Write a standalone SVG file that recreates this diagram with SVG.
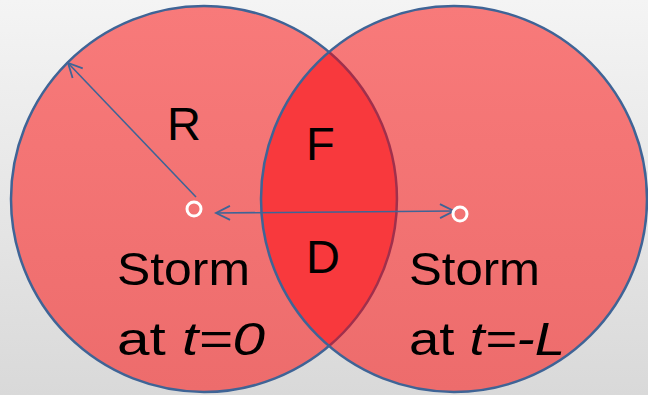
<svg xmlns="http://www.w3.org/2000/svg" width="648" height="395" viewBox="0 0 648 395">
  <style>
    .lbl { font-family: "Liberation Sans", Arial, sans-serif; font-size: 47px; fill: #000; }
    .it { font-style: italic; }
    .edge { stroke: #3F6496; stroke-width: 2.5; }
    .conn { stroke: #3F6496; stroke-width: 1.6; fill: none; }
    .ctr { fill: none; stroke: #FFFFFF; stroke-width: 3; }
  </style>
  <defs>
    <linearGradient id="bg" x1="0" y1="0" x2="0" y2="1">
      <stop offset="0" stop-color="#F4F4F4"/>
      <stop offset="1" stop-color="#D9D9D9"/>
    </linearGradient>
    <linearGradient id="fillR" x1="0" y1="0" x2="0" y2="1">
      <stop offset="0" stop-color="#F87A7A"/>
      <stop offset="1" stop-color="#ED6C6C"/>
    </linearGradient>
    <marker id="open" viewBox="0 0 18 18" refX="16" refY="9" markerWidth="18" markerHeight="18" markerUnits="userSpaceOnUse" orient="auto-start-reverse">
      <path d="M2 2 L16 9 L2 16" fill="none" stroke="#3F6496" stroke-width="1.8"/>
    </marker>
  </defs>
  <rect width="648" height="395" fill="url(#bg)"/>

  <g id="storm-t0">
    <circle cx="204" cy="199" r="193" fill="url(#fillR)" class="edge"/>
  </g>
  <g id="storm-tL">
    <circle cx="454" cy="199" r="193" fill="url(#fillR)"/>
  </g>
  <g id="overlap">
    <path d="M329 52 A193 193 0 0 0 329 346 A193 193 0 0 0 329 52 Z" fill="#F8393D"/>
    <path d="M329 52 A193 193 0 0 1 329 346" fill="none" stroke="#A0304C" stroke-width="2.5"/>
  </g>
  <g id="storm-tL-outline">
    <circle cx="454" cy="199" r="193" fill="none" class="edge"/>
  </g>

  <g id="connectors">
    <line x1="196" y1="197" x2="68" y2="63" class="conn" marker-end="url(#open)"/>
    <line x1="216" y1="213" x2="454" y2="211" class="conn" marker-start="url(#open)" marker-end="url(#open)"/>
  </g>

  <g id="centers">
    <circle cx="194" cy="209" r="7" class="ctr"/>
    <circle cx="460" cy="214" r="7" class="ctr"/>
  </g>

  <g id="labels">
    <text class="lbl" x="167" y="140">R</text>
    <text class="lbl" x="306" y="160">F</text>
    <text class="lbl" x="306" y="273">D</text>
    <text class="lbl" x="117" y="285" textLength="133" lengthAdjust="spacingAndGlyphs">Storm</text>
    <text class="lbl" x="117" y="355" textLength="148" lengthAdjust="spacingAndGlyphs">at <tspan class="it">t=0</tspan></text>
    <text class="lbl" x="409" y="285" textLength="131" lengthAdjust="spacingAndGlyphs">Storm</text>
    <text class="lbl" x="409" y="355" textLength="156" lengthAdjust="spacingAndGlyphs">at <tspan class="it">t=-L</tspan></text>
  </g>
</svg>
